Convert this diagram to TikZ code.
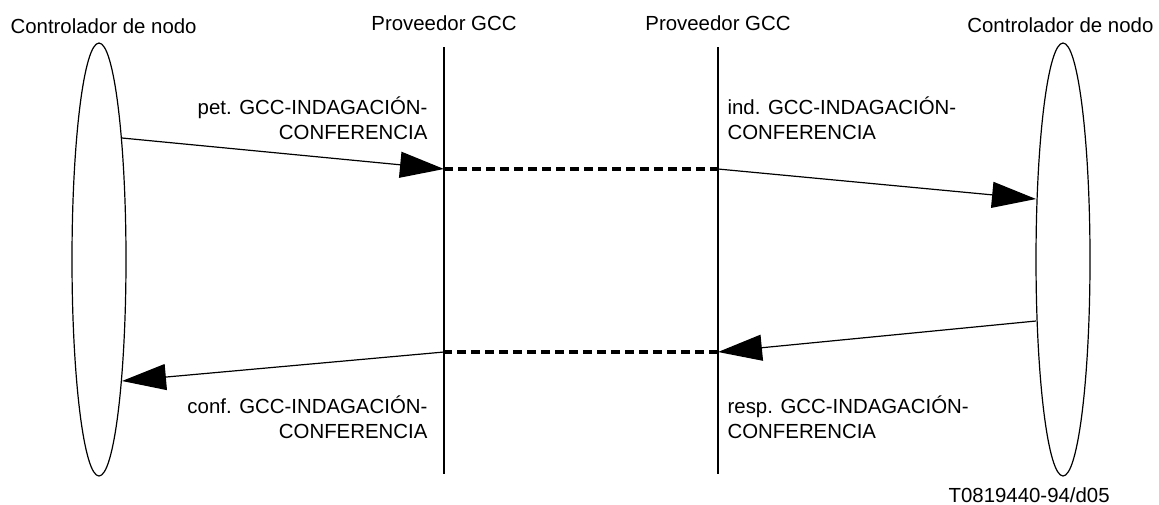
\documentclass[tikz,border=0pt]{standalone}
\usepackage{fontspec}
\setmainfont{Liberation Sans}
\usetikzlibrary{arrows.meta,shapes.geometric}

\begin{document}
\begin{tikzpicture}[x=0.5pt,y=-0.5pt,line width=0.6pt,
  ctrl/.style={draw,ellipse,minimum width=27pt,minimum height=216.5pt,inner sep=0pt},
  msg/.style={-{Triangle[length=22pt,width=13pt]}},
  gcclink/.style={dash pattern=on 4.5pt off 2.5pt,line width=1.6pt},
  lifeline/.style={line width=1pt},
  lbl/.style={font=\fontsize{10.2}{12.5}\selectfont,inner sep=0pt}]
  \useasboundingbox (0,0) rectangle (1159,504);
  % headings
  \node[lbl,anchor=base west] (ctrlA) at (10,33) {Controlador de nodo};
  \node[lbl,anchor=base] (provA) at (444,30) {Proveedor GCC};
  \node[lbl,anchor=base] (provB) at (718,30) {Proveedor GCC};
  \node[lbl,anchor=base east] (ctrlB) at (1154,32) {Controlador de nodo};
  % node controllers
  \node[ctrl] (lcn) at (99,259.5) {};
  \node[ctrl] (rcn) at (1063,259.5) {};
  % GCC providers
  \coordinate (provA top) at (444,47);
  \coordinate (provA bot) at (444,474);
  \coordinate (provB top) at (718,47);
  \coordinate (provB bot) at (718,474);
  \draw[lifeline] (provA top) -- (provA bot);
  \draw[lifeline] (provB top) -- (provB bot);
  % message points
  \coordinate (l1) at (122,138);
  \coordinate (pA1) at (444,169);
  \coordinate (pB1) at (718,169);
  \coordinate (r1) at (1036,199);
  \coordinate (r2) at (1036,321);
  \coordinate (pB2) at (718,352);
  \coordinate (pA2) at (444,352);
  \coordinate (l2) at (122,381);
  % request / indication
  \draw[msg] (l1) -- (pA1);
  \draw[gcclink] (pA1) -- (pB1);
  \draw[msg] (pB1) -- (r1);
  % response / confirm
  \draw[msg] (r2) -- (pB2);
  \draw[gcclink] (pB2) -- (pA2);
  \draw[msg] (pA2) -- (l2);
  % labels (base = last line)
  \node[lbl,anchor=base east,align=right] (pet) at (428,139) {pet. GCC-INDAGACIÓN-\\CONFERENCIA};
  \node[lbl,anchor=base west,align=left] (ind) at (727,139) {ind. GCC-INDAGACIÓN-\\CONFERENCIA};
  \node[lbl,anchor=base east,align=right] (conf) at (428,438) {conf. GCC-INDAGACIÓN-\\CONFERENCIA};
  \node[lbl,anchor=base west,align=left] (resp) at (727,438) {resp. GCC-INDAGACIÓN-\\CONFERENCIA};
  \node[lbl,anchor=base west] (ref) at (948,502) {T0819440-94/d05};
\end{tikzpicture}
\end{document}
